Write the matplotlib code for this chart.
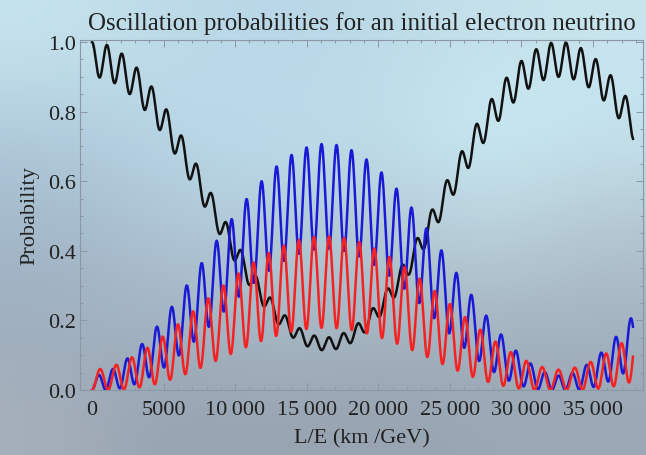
"""Three-flavour vacuum oscillation probabilities for an initial electron
neutrino, drawn over a blurred sky-like backdrop."""

import matplotlib as mpl
mpl.use("Agg")
import matplotlib.pyplot as plt
import numpy as np
from matplotlib.ticker import FixedLocator, MultipleLocator

# ---------- oscillation parameters ----------

SIN2_2TH12 = 0.861
SIN2_2TH13 = 0.10
SIN2_2TH23 = 0.97
DM2_21 = 7.59e-5      # eV^2
DM2_32 = 2.32e-3      # eV^2
LE_MAX = 37800        # km/GeV, end of the plotted range

FLAVOURS = ["electron", "muon", "tau"]
LINE_COLORS = ["#111111", "#1a1ad6", "#f52222"]

X_TICKS = [0, 5000, 10000, 15000, 20000, 25000, 30000, 35000]
X_TICK_LABELS = ["0", "5000", "10\u2009000", "15\u2009000", "20\u2009000",
                 "25\u2009000", "30\u2009000", "35\u2009000"]
Y_TICKS = [0.0, 0.2, 0.4, 0.6, 0.8, 1.0]

# sky backdrop: coarse colour grid, rows top -> bottom, cols left -> right
BG_GRID = np.array([
    [[198, 228, 238], [190, 218, 232], [184, 214, 230], [188, 217, 231], [196, 225, 235], [200, 228, 237]],
    [[174, 201, 218], [184, 215, 231], [188, 221, 236], [190, 222, 233], [202, 236, 244], [196, 228, 238]],
    [[164, 185, 202], [174, 196, 212], [180, 205, 220], [176, 197, 209], [190, 215, 226], [180, 198, 209]],
    [[158, 174, 190], [164, 180, 195], [168, 185, 199], [168, 183, 195], [166, 182, 194], [164, 180, 192]],
    [[166, 176, 187], [150, 162, 176], [154, 165, 178], [150, 162, 175], [154, 167, 180], [154, 167, 180]],
]) / 255.0

mpl.rcParams.update({
    "font.family": ["Liberation Serif", "DejaVu Serif"],
    "font.size": 16,
    "axes.edgecolor": "#8a97a5",
    "axes.linewidth": 0.8,
    "xtick.color": "#8a97a5",
    "ytick.color": "#8a97a5",
    "xtick.labelcolor": "#222222",
    "ytick.labelcolor": "#222222",
})


def mixing_matrix():
    th12 = 0.5 * np.arcsin(np.sqrt(SIN2_2TH12))
    th13 = 0.5 * np.arcsin(np.sqrt(SIN2_2TH13))
    th23 = 0.5 * np.arcsin(np.sqrt(SIN2_2TH23))
    s12, c12 = np.sin(th12), np.cos(th12)
    s13, c13 = np.sin(th13), np.cos(th13)
    s23, c23 = np.sin(th23), np.cos(th23)
    # delta_CP = 0, so U is real
    return np.array([
        [c12 * c13, s12 * c13, s13],
        [-s12 * c23 - c12 * s23 * s13, c12 * c23 - s12 * s23 * s13, s23 * c13],
        [s12 * s23 - c12 * c23 * s13, -c12 * s23 - s12 * c23 * s13, c23 * c13],
    ])


def probabilities(le):
    U = mixing_matrix()
    m2 = np.array([0.0, DM2_21, DM2_21 + DM2_32])
    phase = np.exp(-1j * 2.534 * np.outer(le, m2))   # 2 * 1.267 * dm^2 * L/E
    amp = (U[None, :, :] * U[0][None, None, :] * phase[:, None, :]).sum(axis=2)
    return np.abs(amp) ** 2   # columns: e, mu, tau


le = np.linspace(0, LE_MAX, 4000)
probs = probabilities(le)

fig = plt.figure(figsize=(6.46, 4.56), dpi=100)

bg = fig.add_axes([0, 0, 1, 1], zorder=-1)
bg.imshow(BG_GRID, aspect="auto", interpolation="bicubic", extent=[0, 1, 0, 1])
bg.set_axis_off()

ax = fig.add_axes([80 / 646, 1 - 391 / 456, 563 / 646, 350 / 456])
ax.set_facecolor("none")
for i in (0, 1, 2):
    ax.plot(le, np.clip(probs[:, i], 0, 1), color=LINE_COLORS[i], lw=1.8,
            solid_joinstyle="round")

ax.set_xlim(-840, 38500)
ax.set_ylim(0, 1.006)
ax.xaxis.set_major_locator(FixedLocator(X_TICKS))
ax.set_xticklabels(X_TICK_LABELS)
ax.xaxis.set_minor_locator(MultipleLocator(1000))
ax.yaxis.set_major_locator(FixedLocator(Y_TICKS))
ax.set_yticklabels([f"{v:.1f}" for v in Y_TICKS])
ax.yaxis.set_minor_locator(MultipleLocator(0.05))
ax.tick_params(which="both", direction="in", top=True, right=True, width=0.7)
ax.tick_params(which="major", length=5)
ax.tick_params(which="minor", length=2.5)
ax.tick_params(axis="x", which="major", pad=7)
ax.tick_params(axis="y", which="major", pad=3)

ax.set_title("Oscillation probabilities for an initial electron neutrino",
             fontsize=18, color="#222222", pad=8)
ax.set_xlabel("L/E (km /GeV)", color="#222222", labelpad=7)
ax.set_ylabel("Probability", color="#222222", labelpad=6)

fig.savefig("out.png", dpi=100)
